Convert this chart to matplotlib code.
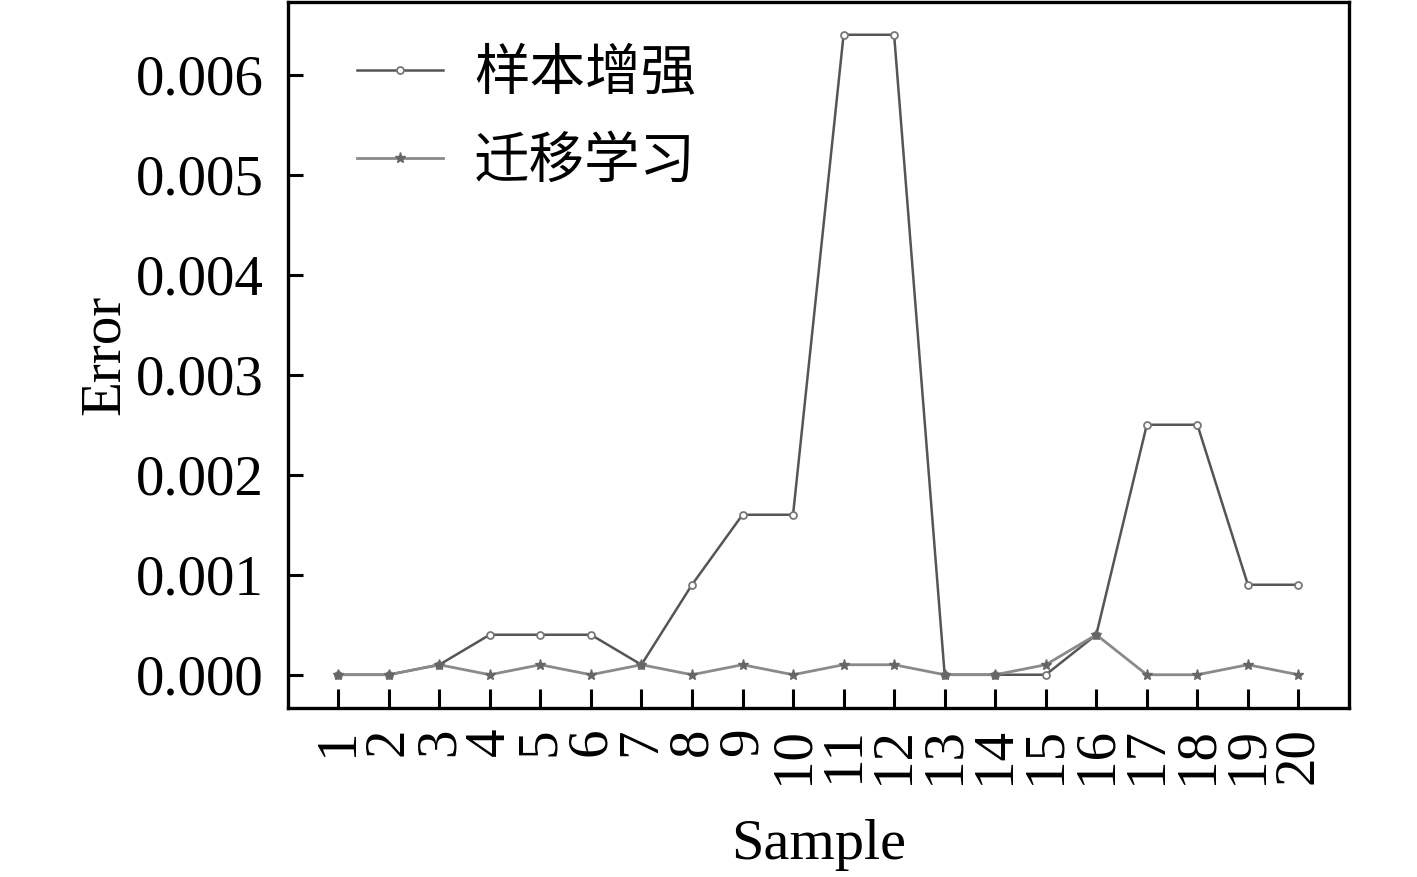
import numpy as np
import matplotlib.pyplot as plt

plt.rcParams['font.family'] = ['Liberation Serif', 'Noto Sans CJK SC']

# 数据
samples = np.arange(1, 21)
err_aug = [0.0, 0.0, 0.0001, 0.0004, 0.0004, 0.0004, 0.0001, 0.0009, 0.0016, 0.0016,
           0.0064, 0.0064, 0.0, 0.0, 0.0, 0.0004, 0.0025, 0.0025, 0.0009, 0.0009]
err_tl = [0.0, 0.0, 0.0001, 0.0, 0.0001, 0.0, 0.0001, 0.0, 0.0001, 0.0,
          0.0001, 0.0001, 0.0, 0.0, 0.0001, 0.0004, 0.0, 0.0, 0.0001, 0.0]
labels = ["样本增强", "迁移学习"]
yticks = [0.000, 0.001, 0.002, 0.003, 0.004, 0.005, 0.006]

fig = plt.figure(figsize=(14.17, 8.77), dpi=100)
ax = fig.add_axes([0.203, 0.193, 0.749, 0.805])

ax.plot(samples, err_aug, color='#555555', lw=1.8, marker='o', ms=5,
        mfc='white', mec='#777777', mew=1.3, label=labels[0])
ax.plot(samples, err_tl, color='#8a8a8a', lw=2.0, marker='*', ms=8,
        mfc='#666666', mec='#666666', label=labels[1])

ax.set_xlim(0, 21)
ax.set_ylim(-0.00033, 0.00673)
ax.set_xticks(samples)
ax.set_xticklabels([str(s) for s in samples], rotation=90)
ax.set_yticks(yticks)
ax.set_yticklabels([f"{v:.3f}" for v in yticks])

ax.tick_params(direction='in', width=2.2, length=11, labelsize=41)
ax.tick_params(axis='x', length=14, pad=14)
ax.tick_params(axis='y', pad=17)
for s in ax.spines.values():
    s.set_linewidth(2.4)

ax.set_xlabel("Sample", fontsize=42, labelpad=25)
ax.set_ylabel("Error", fontsize=41, labelpad=4)

ax.legend(loc='upper left', bbox_to_anchor=(0.029, 0.988), frameon=False,
          fontsize=40, handlelength=1.55, labelspacing=0.66,
          handletextpad=0.55, borderaxespad=0.3)

fig.savefig("out.png", dpi=100)
